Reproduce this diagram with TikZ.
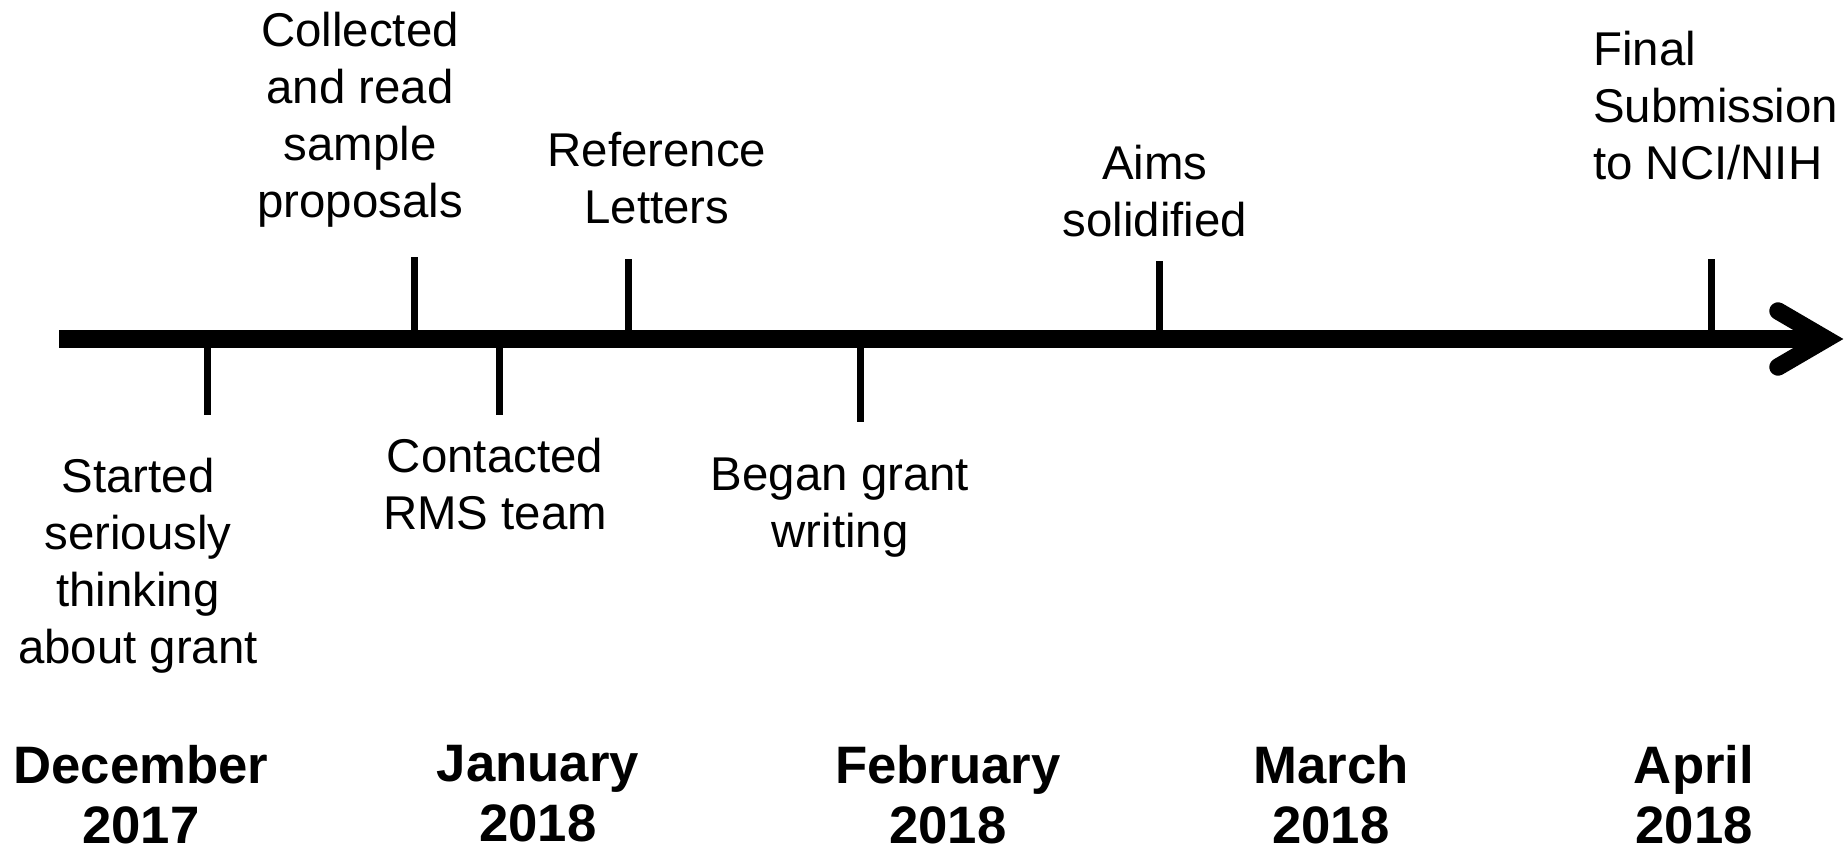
\documentclass[tikz,border=0pt]{standalone}
\usepackage{fontspec}
\setmainfont{Liberation Sans}
\begin{document}
\begin{tikzpicture}[x=1pt,y=-1pt,
  lbl/.style={inner sep=0pt, align=center, anchor=north, font=\fontsize{47.4}{57}\selectfont},
  month/.style={inner sep=0pt, align=center, anchor=north, font=\fontsize{52.7}{60}\selectfont\bfseries},
  tickline/.style={line width=7pt},
  axisline/.style={line width=17.5pt},
]
\useasboundingbox (0,0) rectangle (1845,851);
% axis
\coordinate (a0) at (59,339);
\coordinate (a1) at (1826,339);
\coordinate (h1) at (1778,311);
\coordinate (h2) at (1778,367);
\draw[axisline] (a0) -- (a1);
\draw[axisline, line cap=round, line join=miter] (h1) -- (a1) -- (h2);
% ticks
\coordinate (s1) at (207,339);  \coordinate (e1) at (207,415);
\coordinate (s2) at (414,339);  \coordinate (e2) at (414,257);
\coordinate (s3) at (499,339);  \coordinate (e3) at (499,415);
\coordinate (s4) at (628,339);  \coordinate (e4) at (628,259);
\coordinate (s5) at (860,339);  \coordinate (e5) at (860,422);
\coordinate (s6) at (1159,339); \coordinate (e6) at (1159,261);
\coordinate (s7) at (1711,339); \coordinate (e7) at (1711,259);
\foreach \i in {1,...,7} { \draw[tickline] (s\i) -- (e\i); }
% labels
\node[lbl] (l1) at (138,458) {Started\\seriously\\thinking\\about grant};
\node[lbl] (l2) at (360,12) {Collected\\and read\\sample\\proposals};
\node[lbl] (l3) at (495,438) {Contacted\\RMS team};
\node[lbl] (l4) at (657,132) {Reference\\Letters};
\node[lbl] (l5) at (840,458) {Began grant\\writing};
\node[lbl] (l6) at (1155,145) {Aims\\solidified};
\node[lbl, anchor=north west, align=left] (l7) at (1593,31) {Final\\Submission\\to NCI/NIH};
% months
\node[month] (m1) at (141,745) {December\\2017};
\node[month] (m2) at (538,745) {January\\2018};
\node[month] (m3) at (948,745) {February\\2018};
\node[month] (m4) at (1331,745) {March\\2018};
\node[month] (m5) at (1694,745) {April\\2018};
\end{tikzpicture}
\end{document}
